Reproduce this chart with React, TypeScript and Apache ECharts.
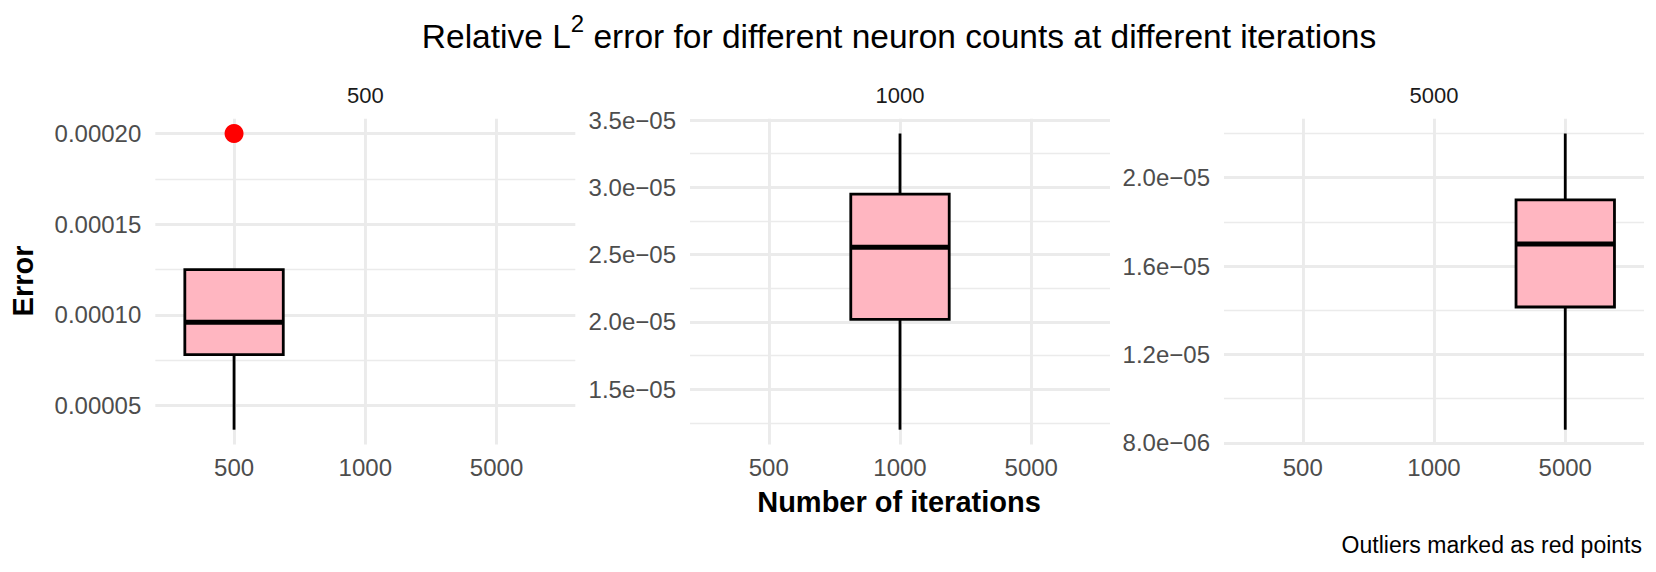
import React, { useEffect, useRef } from "react";
import * as echarts from "echarts";

// x categories (number of iterations) and facet labels (neuron counts)
const iterations = ["500", "1000", "5000"];
const facetLabels = ["500", "1000", "5000"];

// box statistics per facet: [lower whisker, Q1, median, Q3, upper whisker]
const box500 = [3.68e-5, 7.82e-5, 9.6e-5, 1.25e-4, 1.25e-4];
const box1000 = [1.2e-5, 2.02e-5, 2.555e-5, 2.95e-5, 3.4e-5];
const box5000 = [8.6e-6, 1.415e-5, 1.7e-5, 1.9e-5, 2.2e-5];

// outliers per facet
const outliers500 = [2.0e-4];
const outliers1000: number[] = [];
const outliers5000: number[] = [];

// y tick values / labels per facet
const ticks500 = [5e-5, 1e-4, 1.5e-4, 2e-4];
const tickLabels500 = ["0.00005", "0.00010", "0.00015", "0.00020"];
const minor500 = [7.5e-5, 1.25e-4, 1.75e-4];

const ticks1000 = [1.5e-5, 2.0e-5, 2.5e-5, 3.0e-5, 3.5e-5];
const tickLabels1000 = ["1.5e\u221205", "2.0e\u221205", "2.5e\u221205", "3.0e\u221205", "3.5e\u221205"];
const minor1000 = [1.25e-5, 1.75e-5, 2.25e-5, 2.75e-5, 3.25e-5];

const ticks5000 = [8e-6, 1.2e-5, 1.6e-5, 2.0e-5];
const tickLabels5000 = ["8.0e\u221206", "1.2e\u221205", "1.6e\u221205", "2.0e\u221205"];
const minor5000 = [1.0e-5, 1.4e-5, 1.8e-5, 2.2e-5];

const FONT = "'Liberation Sans', Arial, Helvetica, sans-serif";

export default function App() {
  const ref = useRef<HTMLDivElement>(null);

  useEffect(() => {
    if (!ref.current) return;
    const chart = echarts.init(ref.current, undefined, { renderer: "svg" });

    const facets = [
      { label: facetLabels[0], box: box500, outliers: outliers500, ticks: ticks500, labels: tickLabels500, minor: minor500 },
      { label: facetLabels[1], box: box1000, outliers: outliers1000, ticks: ticks1000, labels: tickLabels1000, minor: minor1000 },
      { label: facetLabels[2], box: box5000, outliers: outliers5000, ticks: ticks5000, labels: tickLabels5000, minor: minor5000 },
    ];

    const gridLefts = [155.3, 690, 1224];
    const gridWidth = 420;
    const gridTop = 118.7;
    const gridHeight = 325.8;
    const gridColor = "#EBEBEB";

    const grid: any[] = [];
    const xAxis: any[] = [];
    const yAxis: any[] = [];
    const series: any[] = [];
    const graphic: any[] = [];

    facets.forEach((f, i) => {
      grid.push({ left: gridLefts[i], top: gridTop, width: gridWidth, height: gridHeight, containLabel: false });
      const catValues = iterations.map((_, k) => k + 1);
      xAxis.push({
        type: "value",
        gridIndex: i,
        min: 0.4,
        max: 3.6,
        axisLine: { show: false },
        axisTick: { show: false, customValues: catValues },
        axisLabel: {
          customValues: catValues,
          formatter: (v: number) => iterations[Math.round(v) - 1] ?? "",
          color: "#4D4D4D",
          fontSize: 24,
          fontFamily: FONT,
          margin: 11,
        },
        splitLine: { show: true, lineStyle: { color: gridColor, width: 2.9 } },
      });
      const all = [...f.box, ...f.outliers];
      const lo = Math.min(...all);
      const hi = Math.max(...all);
      const pad = (hi - lo) * 0.05;
      const ymin = lo - pad;
      const ymax = hi + pad;
      yAxis.push({
        type: "value",
        gridIndex: i,
        min: ymin,
        max: ymax,
        axisLine: { show: false },
        axisTick: { show: false, customValues: f.ticks },
        axisLabel: {
          customValues: f.ticks,
          formatter: (v: number) => {
            let best = 0;
            f.ticks.forEach((t, k) => {
              if (Math.abs(t - v) < Math.abs(f.ticks[best] - v)) best = k;
            });
            return f.labels[best];
          },
          color: "#4D4D4D",
          fontSize: 24,
          fontFamily: FONT,
          margin: 14,
        },
        splitLine: { show: true, lineStyle: { color: gridColor, width: 2.9 } },
      });
      yAxis.push({
        type: "value",
        gridIndex: i,
        position: "left",
        min: ymin,
        max: ymax,
        axisLine: { show: false },
        axisTick: { show: false, customValues: f.minor },
        axisLabel: { show: false, customValues: f.minor },
        splitLine: { show: true, lineStyle: { color: gridColor, width: 1.45 } },
      });

      const xIdx = iterations.indexOf(f.label) + 1;
      series.push({
        type: "custom",
        xAxisIndex: i,
        yAxisIndex: i * 2,
        data: [[xIdx, ...f.box]],
        encode: { x: 0, y: [1, 2, 3, 4, 5] },
        renderItem: (params: any, api: any) => {
          const x = api.value(0);
          const low = api.coord([x, api.value(1)]);
          const q1 = api.coord([x, api.value(2)]);
          const med = api.coord([x, api.value(3)]);
          const q3 = api.coord([x, api.value(4)]);
          const high = api.coord([x, api.value(5)]);
          const halfW = api.size([0.75, 0])[0] / 2;
          const stroke = { stroke: "#000000", lineWidth: 2.8, fill: null };
          return {
            type: "group",
            children: [
              { type: "line", shape: { x1: low[0], y1: low[1], x2: q1[0], y2: q1[1] }, style: stroke },
              { type: "line", shape: { x1: q3[0], y1: q3[1], x2: high[0], y2: high[1] }, style: stroke },
              {
                type: "rect",
                shape: { x: q3[0] - halfW, y: q3[1], width: halfW * 2, height: q1[1] - q3[1] },
                style: { fill: "#FFB6C1", stroke: "#000000", lineWidth: 2.8 },
              },
              {
                type: "line",
                shape: { x1: med[0] - halfW, y1: med[1], x2: med[0] + halfW, y2: med[1] },
                style: { stroke: "#000000", lineWidth: 5 },
              },
            ],
          };
        },
        z: 3,
      });
      if (f.outliers.length) {
        series.push({
          type: "scatter",
          xAxisIndex: i,
          yAxisIndex: i * 2,
          data: f.outliers.map((o) => [xIdx, o]),
          symbol: "circle",
          symbolSize: 19,
          itemStyle: { color: "#FF0000", opacity: 1 },
          z: 4,
        });
      }
      graphic.push({
        type: "text",
        x: gridLefts[i] + gridWidth / 2,
        y: 95.5,
        style: {
          text: f.label,
          fill: "#1A1A1A",
          fontSize: 22,
          fontFamily: FONT,
          align: "center",
          verticalAlign: "middle",
        },
      });
    });

    graphic.push(
      {
        type: "text",
        x: 899,
        y: 36,
        style: {
          text: "{a|Relative L}{s|2}{a| error for different neuron counts at different iterations}",
          align: "center",
          verticalAlign: "middle",
          rich: {
            a: { fontSize: 33.5, lineHeight: 50, fontFamily: FONT, fill: "#000000" },
            s: { fontSize: 24, lineHeight: 22, fontFamily: FONT, fill: "#000000", verticalAlign: "top" },
          },
        },
      },
      {
        type: "text",
        x: 899,
        y: 502,
        style: {
          text: "Number of iterations",
          fill: "#000000",
          fontSize: 29,
          fontWeight: "bold",
          fontFamily: FONT,
          align: "center",
          verticalAlign: "middle",
        },
      },
      {
        type: "text",
        x: 23,
        y: 281,
        rotation: Math.PI / 2,
        style: {
          text: "Error",
          fill: "#000000",
          fontSize: 29,
          fontWeight: "bold",
          fontFamily: FONT,
          align: "center",
          verticalAlign: "middle",
        },
      },
      {
        type: "text",
        x: 1642,
        y: 545,
        style: {
          text: "Outliers marked as red points",
          fill: "#000000",
          fontSize: 23,
          fontFamily: FONT,
          align: "right",
          verticalAlign: "middle",
        },
      }
    );

    chart.setOption({
      animation: false,
      backgroundColor: "#FFFFFF",
      grid,
      xAxis,
      yAxis,
      series,
      graphic,
    });

    return () => chart.dispose();
  }, []);

  return (
    <div
      ref={ref}
      style={{ position: "fixed", left: 0, top: 0, width: 1656, height: 572, background: "#fff" }}
    />
  );
}
